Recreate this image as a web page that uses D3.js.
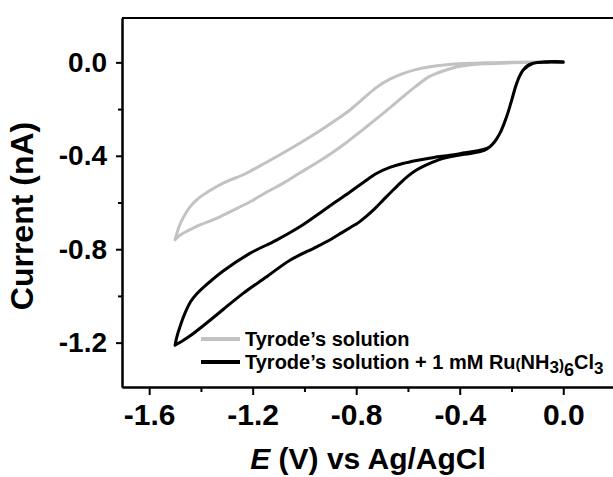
<!DOCTYPE html>
<html>
<head>
<meta charset="utf-8">
<script src="https://cdn.jsdelivr.net/npm/d3@7"></script>
<style>
  body { margin: 0; background: #fff; }
  text { font-family: "Liberation Sans", Arial, sans-serif; font-weight: bold; fill: #000; }
  .axis path, .axis line { stroke: #000; stroke-width: 2; }
</style>
</head>
<body>
<script>
// tick values for both axes
var xMajor = [-1.6, -1.2, -0.8, -0.4, 0.0];
var xMinor = [-1.4, -1.0, -0.6, -0.2];
var yMajor = [0.0, -0.4, -0.8, -1.2];
var yMinor = [-0.2, -0.6, -1.0];

// Tyrode's solution, scan to -1.5 V and back
var grayOutE = [0, -0.1, -0.2, -0.3, -0.37, -0.41, -0.45, -0.49, -0.52, -0.57, -0.62, -0.67, -0.72, -0.78, -0.84,
                -0.90, -0.95, -1.02, -1.08, -1.15, -1.21, -1.28, -1.34, -1.42, -1.469, -1.49, -1.50];
var grayOutI = [0, 0, -0.002, -0.006, -0.012, -0.019, -0.032, -0.047, -0.062, -0.103, -0.148, -0.195, -0.240, -0.293, -0.345,
                -0.392, -0.428, -0.475, -0.516, -0.558, -0.597, -0.636, -0.668, -0.704, -0.732, -0.748, -0.760];
var grayBackE = [-1.50, -1.495, -1.485, -1.47, -1.443, -1.41, -1.37, -1.31, -1.23, -1.17, -1.11, -1.02, -0.93, -0.88, -0.824,
                 -0.77, -0.72, -0.67, -0.62, -0.57, -0.52, -0.45, -0.39, -0.30, -0.13, 0.0];
var grayBackI = [-0.760, -0.740, -0.705, -0.668, -0.620, -0.582, -0.552, -0.515, -0.478, -0.442, -0.405, -0.347, -0.285, -0.248, -0.204,
                 -0.152, -0.106, -0.072, -0.048, -0.031, -0.020, -0.010, -0.005, -0.002, 0.002, 0.0];

// Tyrode's solution + 1 mM Ru(NH3)6Cl3
var blackOutE = [0.0, -0.08, -0.116, -0.14, -0.155, -0.168, -0.180, -0.199, -0.219, -0.245, -0.265, -0.283, -0.303, -0.33,
                 -0.36, -0.40, -0.438, -0.47, -0.502, -0.535, -0.567, -0.60, -0.631, -0.664, -0.696, -0.728, -0.760, -0.79,
                 -0.824, -0.857, -0.889, -0.953, -1.056, -1.146, -1.237, -1.314, -1.378, -1.443, -1.475, -1.50];
var blackOutI = [0.003, 0.002, -0.004, -0.015, -0.033, -0.058, -0.090, -0.161, -0.233, -0.304, -0.340, -0.361, -0.376, -0.384,
                 -0.390, -0.397, -0.404, -0.413, -0.426, -0.442, -0.461, -0.487, -0.518, -0.554, -0.590, -0.626, -0.658, -0.685,
                 -0.708, -0.730, -0.752, -0.790, -0.847, -0.918, -0.989, -1.058, -1.116, -1.172, -1.195, -1.211];
var blackBackE = [-1.50, -1.493, -1.481, -1.462, -1.440, -1.415, -1.385, -1.314, -1.211, -1.108, -1.018, -0.928, -0.876, -0.824,
                  -0.77, -0.72, -0.67, -0.62, -0.567, -0.50, -0.438, -0.38, -0.322, -0.283, -0.245, -0.219, -0.199,
                  -0.180, -0.155, -0.116, -0.06, 0.0];
var blackBackI = [-1.211, -1.175, -1.132, -1.075, -1.025, -0.990, -0.958, -0.893, -0.818, -0.761, -0.704, -0.635, -0.595, -0.555,
                  -0.512, -0.475, -0.450, -0.433, -0.420, -0.407, -0.398, -0.387, -0.376, -0.361, -0.304, -0.233, -0.161,
                  -0.090, -0.033, -0.004, 0.001, 0.0];

var legendLabels = ["Tyrode\u2019s solution", "Tyrode\u2019s solution + 1 mM Ru"];
var seriesColors = ["#c2c2c2", "#000000"];

// canvas
var width = 613;
var height = 477;
var svg = d3.select("body").append("svg")
            .attr("width", width)
            .attr("height", height);

// scales, right edge runs off the picture
var x = d3.scaleLinear().domain([-1.705, 0.2]).range([122, 615]);
var y = d3.scaleLinear().domain([-1.39, 0.19]).range([387, 18]);

// labels with a plain hyphen instead of the unicode minus
var fmt = function(d) { return d3.format(".1f")(d).replace("\u2212", "-"); };

// join out and back scans into one loop
function loop(e1, i1, e2, i2) {
    var pts = [];
    for (var k = 0; k < e1.length; k++) pts.push([e1[k], i1[k]]);
    for (var k = 0; k < e2.length; k++) pts.push([e2[k], i2[k]]);
    return pts;
}
var series = [loop(grayOutE, grayOutI, grayBackE, grayBackI),
              loop(blackOutE, blackOutI, blackBackE, blackBackI)];

var line = d3.line()
             .x(function(d) { return x(d[0]); })
             .y(function(d) { return y(d[1]); })
             .curve(d3.curveCatmullRom);

svg.selectAll(".cv")
   .data(series)
   .enter()
   .append("path")
   .attr("class", "cv")
   .attr("d", line)
   .attr("fill", "none")
   .attr("stroke", function(d, i) { return seriesColors[i]; })
   .attr("stroke-width", 3)
   .attr("stroke-linejoin", "round")
   .attr("stroke-linecap", "round");

// top frame line
svg.append("line")
   .attr("x1", 122).attr("x2", width)
   .attr("y1", 18).attr("y2", 18)
   .attr("stroke", "#000").attr("stroke-width", 2);

// x axis, minor ticks first
svg.append("g")
   .attr("class", "axis")
   .attr("transform", "translate(0,387)")
   .call(d3.axisBottom(x).tickValues(xMinor).tickSize(5).tickFormat("").tickSizeOuter(0));
var xAxis = svg.append("g")
   .attr("class", "axis")
   .attr("transform", "translate(0,387)")
   .call(d3.axisBottom(x).tickValues(xMajor).tickSize(8).tickSizeOuter(0).tickPadding(9).tickFormat(fmt));
xAxis.selectAll("text").style("font-size", "30px").attr("dy", "0.71em");

// y axis
svg.append("g")
   .attr("class", "axis")
   .attr("transform", "translate(122,0)")
   .call(d3.axisLeft(y).tickValues(yMinor).tickSize(4).tickFormat("").tickSizeOuter(0));
var yAxis = svg.append("g")
   .attr("class", "axis")
   .attr("transform", "translate(122,0)")
   .call(d3.axisLeft(y).tickValues(yMajor).tickSize(6).tickSizeOuter(0).tickPadding(9).tickFormat(fmt));
yAxis.selectAll("text").style("font-size", "28px");

// axis titles
var xTitle = svg.append("text")
   .attr("x", 368)
   .attr("y", 469)
   .attr("text-anchor", "middle")
   .style("font-size", "30px");
xTitle.append("tspan").style("font-style", "italic").text("E");
xTitle.append("tspan").text(" (V) vs Ag/AgCl");

svg.append("text")
   .attr("transform", "translate(33,216) rotate(-90)")
   .attr("text-anchor", "middle")
   .style("font-size", "32px")
   .text("Current (nA)");

// legend
var legendY = [339, 362];
var legend = svg.selectAll(".legend")
   .data(legendLabels)
   .enter()
   .append("g")
   .attr("class", "legend")
   .attr("transform", function(d, i) { return "translate(0," + legendY[i] + ")"; });

legend.append("line")
   .attr("x1", 201).attr("x2", 240)
   .attr("stroke", function(d, i) { return seriesColors[i]; })
   .attr("stroke-width", 4);

var legendText = legend.append("text")
   .attr("x", 245)
   .attr("y", 7)
   .style("font-size", "20px")
   .text(function(d) { return d; });

// chemical formula after the second label
var formula = d3.select(legendText.nodes()[1]);
formula.append("tspan").style("font-size", "15px").text("(");
formula.append("tspan").text("NH");
formula.append("tspan").style("font-size", "17px").attr("dy", 4).text("3");
formula.append("tspan").style("font-size", "15px").attr("dy", -3).text(")");
formula.append("tspan").style("font-size", "18px").attr("dy", 6).text("6");
formula.append("tspan").attr("dy", -7).text("Cl");
formula.append("tspan").style("font-size", "17px").attr("dy", 5).text("3");
</script>
</body>
</html>
